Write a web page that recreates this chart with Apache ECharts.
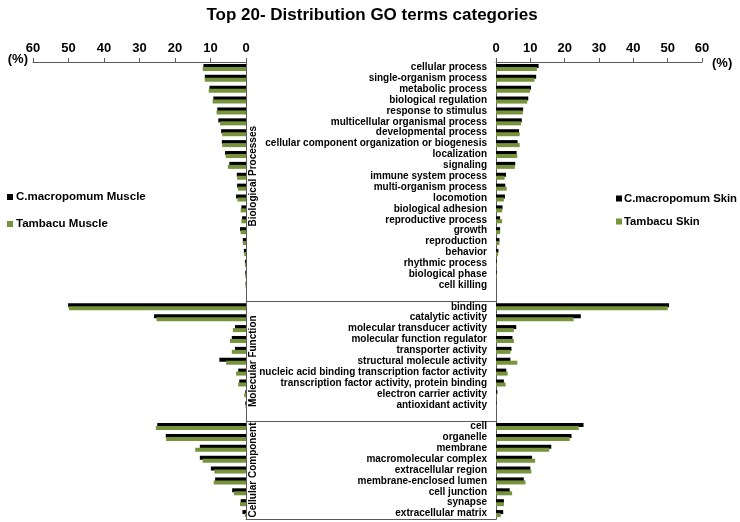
<!DOCTYPE html>
<html>
<head>
<meta charset="utf-8">
<script src="https://cdn.jsdelivr.net/npm/echarts@6/dist/echarts.min.js"></script>
<style>html,body{margin:0;padding:0;background:#fff;}#c{width:740px;height:522px;}</style>
</head>
<body>
<div id="c"></div>
<script>
// ---- data ----
var bpCategories = ['cellular process','single-organism process','metabolic process','biological regulation','response to stimulus','multicellular organismal process','developmental process','cellular component organization or biogenesis','localization','signaling','immune system process','multi-organism process','locomotion','biological adhesion','reproductive process','growth','reproduction','behavior','rhythmic process','biological phase','cell killing'];
var mfCategories = ['binding','catalytic activity','molecular transducer activity','molecular function regulator','transporter activity','structural molecule activity','nucleic acid binding transcription factor activity','transcription factor activity, protein binding','electron carrier activity','antioxidant activity'];
var ccCategories = ['cell','organelle','membrane','macromolecular complex','extracellular region','membrane-enclosed lumen','cell junction','synapse','extracellular matrix'];
var groupNames = ['Biological Processes','Molecular Function','Cellular Component'];

// C.macropomum Muscle (left, black)
var bpCmMuscle = [12.0,11.6,10.3,9.2,8.1,7.8,7.0,6.8,5.9,4.7,2.6,2.5,2.8,1.3,1.1,1.7,0.9,0.6,0.3,0.2,0.1];
var mfCmMuscle = [50.1,25.9,3.1,4.0,3.1,7.5,2.2,1.9,0.2,0.2];
var ccCmMuscle = [25.0,22.6,13.0,13.0,9.9,8.7,3.9,1.5,1.0];
// Tambacu Muscle (left, green)
var bpTbMuscle = [12.2,11.6,10.5,9.4,8.3,7.3,6.7,6.7,5.7,5.1,2.5,2.3,2.4,1.5,1.3,1.5,0.9,0.5,0.3,0.2,0.1];
var mfTbMuscle = [49.9,25.2,3.7,4.5,4.0,5.6,2.8,2.2,0.5,0.1];
var ccTbMuscle = [25.4,22.5,14.3,12.2,8.9,9.1,3.4,1.7,0.3];
// C.macropomum Skin (right, black)
var bpCmSkin = [12.4,11.7,10.2,9.4,7.9,7.5,6.7,6.3,6.0,5.6,2.9,2.7,2.6,1.9,1.2,1.2,1.0,0.7,0.2,0.2,0.0];
var mfCmSkin = [50.4,24.7,5.9,4.8,4.5,4.2,3.0,2.3,0.4,0.1];
var ccCmSkin = [25.5,22.0,16.1,10.5,10.0,8.1,4.0,2.3,2.1];
// Tambacu Skin (right, green)
var bpTbSkin = [11.9,11.2,9.9,9.1,7.8,7.3,6.9,6.9,6.2,5.5,2.5,3.1,2.3,1.8,1.8,1.2,1.0,0.6,0.2,0.2,0.0];
var mfTbSkin = [50.0,22.6,5.2,5.2,4.2,6.2,3.4,2.8,0.2,0.1];
var ccTbSkin = [24.1,21.5,15.5,11.4,10.3,8.6,4.7,2.3,1.4];

var tickValues = [0,10,20,30,40,50,60];
var seriesNames = ['C.macropomum Muscle','Tambacu Muscle','C.macropomum Skin','Tambacu Skin'];

// ---- build ----
var categories = bpCategories.concat([' '], mfCategories, ['  '], ccCategories);
function joinGroups(a,b,c){ return a.concat([null], b, [null], c); }
var cmMuscle = joinGroups(bpCmMuscle, mfCmMuscle, ccCmMuscle);
var tbMuscle = joinGroups(bpTbMuscle, mfTbMuscle, ccTbMuscle);
var cmSkin = joinGroups(bpCmSkin, mfCmSkin, ccCmSkin);
var tbSkin = joinGroups(bpTbSkin, mfTbSkin, ccTbSkin);
var boundary1 = bpCategories.length + 1;
var boundary2 = boundary1 + mfCategories.length + 1;
var groupCenters = [
  (bpCategories.length - 1) / 2,
  boundary1 + (mfCategories.length - 1) / 2,
  boundary2 + (ccCategories.length - 1) / 2
];

var FONT = 'Liberation Sans, Arial, sans-serif';
var BLACK = '#000000', GREEN = '#77933c';
var TOP = 62, HEIGHT = 457;

var chart = echarts.init(document.getElementById('c'), null, {renderer: 'canvas'});
function isBoundary(idx){ return idx === boundary1 || idx === boundary2; }

var valueAxisBase = {
  type: 'value', min: 0, max: 60, interval: 10, position: 'top',
  axisLine: {show: true, onZero: false, lineStyle: {color: '#595959', width: 1}},
  axisTick: {show: true, length: 4, lineStyle: {color: '#595959'}},
  splitLine: {show: false},
  axisLabel: {fontFamily: FONT, fontSize: 13, fontWeight: 'bold', color: '#000', margin: 7,
              formatter: function(v){ return tickValues.indexOf(v) >= 0 ? String(v) : ''; }},
  name: '(%)', nameLocation: 'end', nameMoveOverlap: false
};

var gridBase = {top: TOP, height: HEIGHT, containLabel: false, outerBoundsMode: 'none'};

var option = {
  backgroundColor: '#fff',
  animation: false,
  textStyle: {fontFamily: FONT},
  title: {text: 'Top 20- Distribution GO terms categories', left: 367, textAlign: 'center', top: 2,
          textStyle: {fontFamily: FONT, fontSize: 17, fontWeight: 'bold', color: '#000'}},
  legend: [
    {data: [seriesNames[0], seriesNames[1]], orient: 'vertical', left: 7, top: 191, itemGap: 15, padding: 0,
     icon: 'rect', itemWidth: 6, itemHeight: 6,
     textStyle: {fontFamily: FONT, fontSize: 11.5, fontWeight: 'bold', color: '#000', padding: [0,0,0,-2]}},
    {data: [seriesNames[2], seriesNames[3]], orient: 'vertical', left: 616, top: 193, itemGap: 12, padding: 0,
     icon: 'rect', itemWidth: 6, itemHeight: 6,
     textStyle: {fontFamily: FONT, fontSize: 11.3, fontWeight: 'bold', color: '#000', padding: [0,0,0,-3]}}
  ],
  grid: [
    Object.assign({left: 33, width: 213}, gridBase),
    Object.assign({left: 496, width: 206}, gridBase),
    Object.assign({left: 246, width: 250}, gridBase)
  ],
  xAxis: [
    Object.assign({}, valueAxisBase, {gridIndex: 0, inverse: true, nameGap: 5,
      nameTextStyle: {fontFamily: FONT, fontSize: 13, fontWeight: 'bold', color: '#000', verticalAlign: 'bottom', padding: [0,0,-4,0]}}),
    Object.assign({}, valueAxisBase, {gridIndex: 1, nameGap: 10,
      nameTextStyle: {fontFamily: FONT, fontSize: 13, fontWeight: 'bold', color: '#000', verticalAlign: 'bottom', padding: [0,0,-8,0]}}),
    {gridIndex: 2, type: 'value', min: 0, max: 1, position: 'bottom',
     axisLine: {show: true, onZero: false, lineStyle: {color: '#595959'}},
     axisTick: {show: false}, axisLabel: {show: false}, splitLine: {show: false}}
  ],
  yAxis: [
    {gridIndex: 0, type: 'category', data: categories, inverse: true, position: 'right',
     axisLine: {show: true, lineStyle: {color: '#595959'}},
     axisTick: {show: true, length: 4, interval: function(i){ return isBoundary(i); }, lineStyle: {color: '#595959'}},
     axisLabel: {show: false}},
    {gridIndex: 1, type: 'category', data: categories, inverse: true, position: 'left',
     axisLine: {show: true, lineStyle: {color: '#595959'}},
     axisTick: {show: true, length: 4, interval: function(i){ return isBoundary(i); }, lineStyle: {color: '#595959'}},
     axisLabel: {show: true, interval: 0, margin: 9, fontFamily: FONT, fontSize: 10, fontWeight: 'bold', color: '#000'}},
    {gridIndex: 2, type: 'category', data: categories, inverse: true,
     axisLine: {show: false}, axisTick: {show: false}, axisLabel: {show: false},
     splitLine: {show: true, interval: function(i){ return isBoundary(i); }, lineStyle: {color: '#595959', width: 1}}}
  ],
  series: [
    {name: seriesNames[0], type: 'bar', xAxisIndex: 0, yAxisIndex: 0, data: cmMuscle,
     barWidth: 4, barGap: '-25%', itemStyle: {color: BLACK}},
    {name: seriesNames[1], type: 'bar', xAxisIndex: 0, yAxisIndex: 0, data: tbMuscle,
     barWidth: 4, barGap: '-25%', itemStyle: {color: GREEN}},
    {name: seriesNames[2], type: 'bar', xAxisIndex: 1, yAxisIndex: 1, data: cmSkin,
     barWidth: 4, barGap: '-25%', itemStyle: {color: BLACK}},
    {name: seriesNames[3], type: 'bar', xAxisIndex: 1, yAxisIndex: 1, data: tbSkin,
     barWidth: 4, barGap: '-25%', itemStyle: {color: GREEN}}
  ]
};
chart.setOption(option);

// group labels, positioned through the middle category axis
var gx = chart.convertToPixel({xAxisIndex: 2}, 0) + 7;
var graphics = groupNames.map(function(name, k){
  var gy = chart.convertToPixel({yAxisIndex: 2}, groupCenters[k]);
  return {type: 'text', x: gx, y: gy, rotation: Math.PI / 2,
          style: {text: name, fontFamily: FONT, fontSize: 10, fontWeight: 'bold', fill: '#000',
                  align: 'center', verticalAlign: 'middle'}};
});
chart.setOption({graphic: graphics});
</script>
</body>
</html>
